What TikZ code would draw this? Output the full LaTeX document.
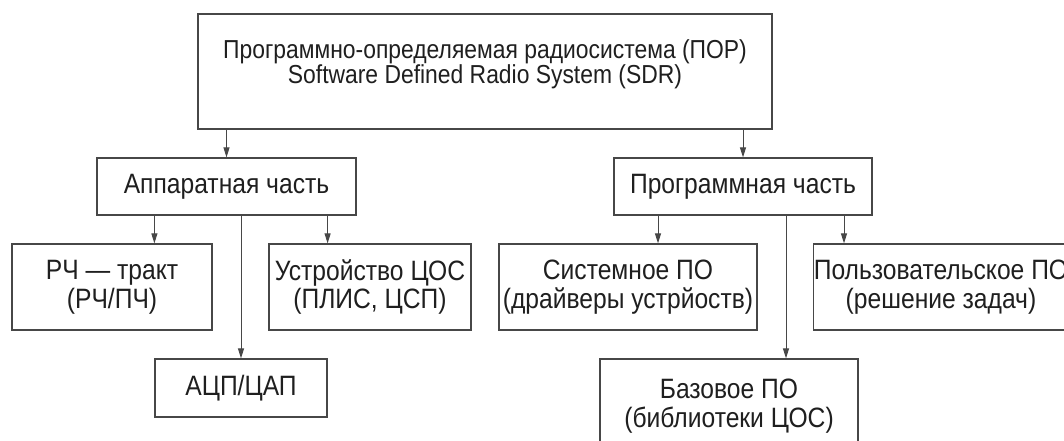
\documentclass[tikz,border=0pt]{standalone}
\usepackage{fontspec}
\setmainfont[FakeStretch=0.88]{Liberation Sans}
\usetikzlibrary{arrows.meta}
\begin{document}
\begin{tikzpicture}[x=0.75pt,y=-0.75pt,
  box/.style 2 args={draw=black!72, line width=0.9pt, inner sep=0pt, anchor=center,
    minimum width=#1*0.75pt, minimum height=#2*0.75pt, align=center, text=black!88,
    font=\fontsize{21}{21.5}\selectfont},
  toptxt/.style={align=center, text=black!88, inner sep=0pt, font=\fontsize{19.5}{18.5}\selectfont},
  arr/.style={draw=black!72, line width=0.75pt, -{Triangle[length=7.5pt,width=4.5pt]}},
]
\useasboundingbox (0,0) rectangle (1064,441);
\clip (0,0) rectangle (1064,441);
\fill[white] (0,0) rectangle (1064,441);

\node[box={574}{115}] (sdr) at (485,71.5) {};
\node[toptxt] (sdrt) at (485,64) {Программно-определяемая радиосистема (ПОР)\\Software Defined Radio System (SDR)};

\node[box={259}{57}] (hw) at (226.5,186.5) {Аппаратная часть};
\node[box={200}{86}] (rf) at (112,287) {РЧ — тракт\\(РЧ/ПЧ)};
\node[box={202}{86}] (dsp) at (370,287) {Устройство ЦОС\\(ПЛИС, ЦСП)};
\node[box={172}{58}] (adc) at (241,388) {АЦП/ЦАП};

\node[box={258}{57}] (sw) at (743,186.5) {Программная часть};
\node[box={258}{86}] (sys) at (628,287) {Системное ПО\\(драйверы устрйоств)};
\node[box={252}{86}] (user) at (941,287) {Пользовательское ПО\\(решение задач)};
\node[box={258}{94}] (base) at (729,406) {Базовое ПО\\(библиотеки ЦОС)};

\draw[arr] (hw.north |- sdr.south) -- (hw.north);
\draw[arr] (sw.north |- sdr.south) -- (sw.north);

\draw[arr] (adc.north west |- hw.south) -- (adc.north west |- rf.north);
\draw[arr] (adc.north |- hw.south) -- (adc.north);
\draw[arr] (adc.north east |- hw.south) -- (adc.north east |- dsp.north);

\draw[arr] (658,0 |- sw.south) -- (658,0 |- sys.north);
\draw[arr] (786,0 |- sw.south) -- (786,0 |- base.north);
\draw[arr] (844,0 |- sw.south) -- (844,0 |- user.north);
\end{tikzpicture}
\end{document}
